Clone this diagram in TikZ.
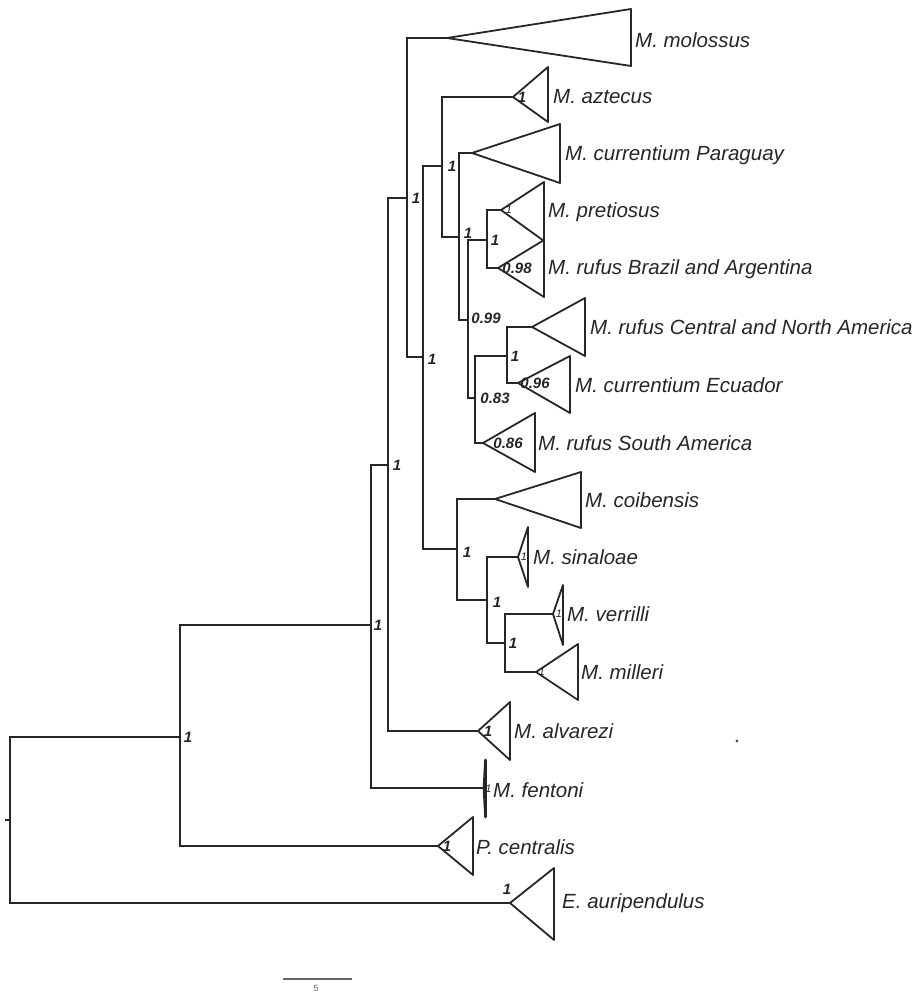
\documentclass[tikz,border=0pt]{standalone}
\usepackage{fontspec}
\setmainfont{Liberation Sans}
\begin{document}
\begin{tikzpicture}[x=1pt,y=-1pt,
  br/.style={line width=1.8pt, draw=black!85, line join=miter},
  tri/.style={line width=1.8pt, draw=black!85, line join=round},
  taxon/.style={anchor=west, inner sep=0pt, font=\fontsize{20.5}{24}\selectfont\itshape, text=black!85},
  supp/.style={inner sep=0pt, font=\fontsize{15}{18}\selectfont\bfseries\itshape, text=black!85},
  tiny/.style={inner sep=0pt, font=\fontsize{11}{13}\selectfont\itshape, text=black!85}]
\useasboundingbox (0,0) rectangle (919,992);
% internal nodes
\coordinate (root) at (10,820);
\coordinate (nA) at (180,737);
\coordinate (nB) at (371,625);
\coordinate (nC) at (388,465);
\coordinate (nD) at (407,198);
\coordinate (nE) at (423,357);
\coordinate (nF) at (442,166);
\coordinate (nG) at (459,237);
\coordinate (nH) at (468,320);
\coordinate (nI) at (487,240);
\coordinate (nJ) at (475,398);
\coordinate (nK) at (507,356);
\coordinate (nL) at (457,549);
\coordinate (nM) at (487,600);
\coordinate (nN) at (505,643);
% clade apices
\coordinate (aMol) at (447,38);
\coordinate (aAzt) at (513,97);
\coordinate (aCPa) at (472,153);
\coordinate (aPre) at (501,210);
\coordinate (aRBr) at (498,268);
\coordinate (aRCe) at (532,327);
\coordinate (aCEc) at (518,383);
\coordinate (aRSA) at (483,443);
\coordinate (aCoi) at (495,499);
\coordinate (aSin) at (518,557);
\coordinate (aVer) at (553,614);
\coordinate (aMil) at (536,672);
\coordinate (aAlv) at (478,731);
\coordinate (aFen) at (484,788);
\coordinate (aPce) at (438,846);
\coordinate (aEau) at (510,903);
\coordinate (rtick) at (5,820);
% branches
\draw[br] (rtick) -- (root);
\draw[br] (root) |- (nA);
\draw[br] (root) |- (aEau);
\draw[br] (nA) |- (nB);
\draw[br] (nA) |- (aPce);
\draw[br] (nB) |- (nC);
\draw[br] (nB) |- (aFen);
\draw[br] (nC) |- (nD);
\draw[br] (nC) |- (aAlv);
\draw[br] (nD) |- (aMol);
\draw[br] (nD) |- (nE);
\draw[br] (nE) |- (nF);
\draw[br] (nE) |- (nL);
\draw[br] (nF) |- (aAzt);
\draw[br] (nF) |- (nG);
\draw[br] (nG) |- (aCPa);
\draw[br] (nG) |- (nH);
\draw[br] (nH) |- (nI);
\draw[br] (nH) |- (nJ);
\draw[br] (nI) |- (aPre);
\draw[br] (nI) |- (aRBr);
\draw[br] (nJ) |- (nK);
\draw[br] (nJ) |- (aRSA);
\draw[br] (nK) |- (aRCe);
\draw[br] (nK) |- (aCEc);
\draw[br] (nL) |- (aCoi);
\draw[br] (nL) |- (nM);
\draw[br] (nM) |- (aSin);
\draw[br] (nM) |- (nN);
\draw[br] (nN) |- (aVer);
\draw[br] (nN) |- (aMil);
% collapsed clades
\draw[tri] (aMol) -- (631,9) -- (631,66) -- cycle;
\draw[tri] (aAzt) -- (548,67) -- (548,122) -- cycle;
\draw[tri] (aCPa) -- (560,124) -- (560,183) -- cycle;
\draw[tri] (aPre) -- (544,182) -- (544,241) -- cycle;
\draw[tri] (aRBr) -- (544,240) -- (544,297) -- cycle;
\draw[tri] (aRCe) -- (585,298) -- (585,356) -- cycle;
\draw[tri] (aCEc) -- (570,356) -- (570,413) -- cycle;
\draw[tri] (aRSA) -- (535,413) -- (535,472) -- cycle;
\draw[tri] (aCoi) -- (581,472) -- (581,528) -- cycle;
\draw[tri] (aSin) -- (528,527) -- (528,587) -- cycle;
\draw[tri] (aVer) -- (563,585) -- (563,645) -- cycle;
\draw[tri] (aMil) -- (578,644) -- (578,700) -- cycle;
\draw[tri] (aAlv) -- (510,702) -- (510,760) -- cycle;
\draw[tri, line width=2.6pt] (aFen) -- (485.5,760) -- (485.5,817) -- cycle;
\draw[tri] (aPce) -- (473,817) -- (473,875) -- cycle;
\draw[tri] (aEau) -- (554,868) -- (554,940) -- cycle;
% taxon names
\node[taxon] (tMol) at (635,40) {M. molossus};
\node[taxon] (tAzt) at (553,97) {M. aztecus};
\node[taxon] (tCPa) at (565,155) {M. currentium Paraguay};
\node[taxon] (tPre) at (548,212) {M. pretiosus};
\node[taxon] (tRBr) at (548,269) {M. rufus Brazil and Argentina};
\node[taxon] (tRCe) at (590,327) {M. rufus Central and North America};
\node[taxon] (tCEc) at (575,385) {M. currentium Ecuador};
\node[taxon] (tRSA) at (538,443) {M. rufus South America};
\node[taxon] (tCoi) at (585,500) {M. coibensis};
\node[taxon] (tSin) at (533,557) {M. sinaloae};
\node[taxon] (tVer) at (567,614) {M. verrilli};
\node[taxon] (tMil) at (581,672) {M. milleri};
\node[taxon] (tAlv) at (514,731) {M. alvarezi};
\node[taxon] (tFen) at (493,790) {M. fentoni};
\node[taxon] (tPce) at (476,847) {P. centralis};
\node[taxon] (tEau) at (562,903) {E. auripendulus};
% support values
\node[supp] (sA) at (188,737) {1};
\node[supp] (sB) at (378,625) {1};
\node[supp] (sC) at (397,465) {1};
\node[supp] (sD) at (416,198) {1};
\node[supp] (sE) at (432,359) {1};
\node[supp] (sF) at (452,166) {1};
\node[supp] (sG) at (468,233) {1};
\node[supp] (sH) at (486,318) {0.99};
\node[supp] (sI) at (495,240) {1};
\node[supp] (sJ) at (495,398) {0.83};
\node[supp] (sK) at (515,356) {1};
\node[supp] (sL) at (467,552) {1};
\node[supp] (sM) at (497,602) {1};
\node[supp] (sN) at (513,643) {1};
\node[supp] (sAzt) at (522,97) {1};
\node[supp] (sRBr) at (517,268) {0.98};
\node[supp] (sCEc) at (535,383) {0.96};
\node[supp] (sRSA) at (508,443) {0.86};
\node[supp] (sAlv) at (488,731) {1};
\node[supp] (sPce) at (447,846) {1};
\node[supp] (sEau) at (507,889) {1};
\node[tiny] (sPre) at (509,210) {1};
\node[tiny] (sSin) at (524,557) {1};
\node[tiny] (sVer) at (559,614) {1};
\node[tiny] (sMil) at (542,672) {1};
\node[tiny] (sFen) at (488.5,789) {1};
% stray dot
\fill[black!70] (737,741) circle (1.6);
% scale bar
\coordinate (sb1) at (283,979);
\coordinate (sb2) at (352,979);
\draw[line width=1.3pt, draw=black!60] (sb1) -- (sb2);
\node[inner sep=0pt, font=\fontsize{9}{10}\selectfont, text=black!60] (sbl) at (316,988) {5};
\end{tikzpicture}
\end{document}
